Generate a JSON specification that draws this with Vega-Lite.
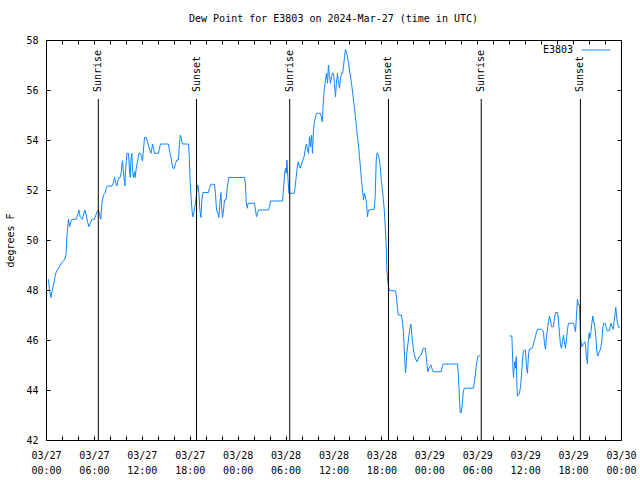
{
  "$schema": "https://vega.github.io/schema/vega-lite/v6.json",
  "width": 575,
  "height": 400,
  "autosize": "none",
  "padding": {"left": 46, "top": 40, "right": 19, "bottom": 40},
  "background": "white",
  "title": {"text": "Dew Point for E3803 on 2024-Mar-27 (time in UTC)", "font": "DejaVu Sans Mono", "fontSize": 10, "fontWeight": "normal", "color": "black", "offset": 11, "anchor": "middle"},
  "config": {
    "view": {"stroke": "black", "strokeWidth": 1},
    "axis": {"labelFont": "DejaVu Sans Mono", "labelFontSize": 10, "labelColor": "black", "tickColor": "black", "tickWidth": 1, "domain": false, "grid": false, "titleFont": "DejaVu Sans Mono", "titleFontSize": 10, "titleFontWeight": "normal", "titleColor": "black"}
  },
  "datasets": {
    "dew": [
      {"t":"2024-03-27T00:19:00Z","v":48.43,"s":1},{"t":"2024-03-27T00:26:00Z","v":48.0,"s":1},{"t":"2024-03-27T00:37:00Z","v":47.7,"s":1},{"t":"2024-03-27T00:44:00Z","v":47.93,"s":1},{"t":"2024-03-27T00:52:00Z","v":48.1,"s":1},{"t":"2024-03-27T01:02:00Z","v":48.33,"s":1},{"t":"2024-03-27T01:11:00Z","v":48.64,"s":1},{"t":"2024-03-27T01:22:00Z","v":48.77,"s":1},{"t":"2024-03-27T01:34:00Z","v":48.87,"s":1},{"t":"2024-03-27T01:47:00Z","v":49.0,"s":1},{"t":"2024-03-27T02:02:00Z","v":49.13,"s":1},{"t":"2024-03-27T02:19:00Z","v":49.2,"s":1},{"t":"2024-03-27T02:30:00Z","v":49.4,"s":1},{"t":"2024-03-27T02:34:00Z","v":49.84,"s":1},{"t":"2024-03-27T02:42:00Z","v":50.47,"s":1},{"t":"2024-03-27T02:49:00Z","v":50.83,"s":1},{"t":"2024-03-27T02:57:00Z","v":50.53,"s":1},{"t":"2024-03-27T03:07:00Z","v":50.73,"s":1},{"t":"2024-03-27T03:17:00Z","v":50.83,"s":1},{"t":"2024-03-27T03:47:00Z","v":50.83,"s":1},{"t":"2024-03-27T03:57:00Z","v":51.0,"s":1},{"t":"2024-03-27T04:07:00Z","v":51.2,"s":1},{"t":"2024-03-27T04:17:00Z","v":50.93,"s":1},{"t":"2024-03-27T04:32:00Z","v":50.83,"s":1},{"t":"2024-03-27T04:42:00Z","v":51.0,"s":1},{"t":"2024-03-27T04:52:00Z","v":51.2,"s":1},{"t":"2024-03-27T05:02:00Z","v":51.0,"s":1},{"t":"2024-03-27T05:12:00Z","v":50.73,"s":1},{"t":"2024-03-27T05:22:00Z","v":50.53,"s":1},{"t":"2024-03-27T05:32:00Z","v":50.67,"s":1},{"t":"2024-03-27T05:47:00Z","v":50.83,"s":1},{"t":"2024-03-27T06:04:00Z","v":50.83,"s":1},{"t":"2024-03-27T06:17:00Z","v":51.03,"s":1},{"t":"2024-03-27T06:27:00Z","v":51.17,"s":1},{"t":"2024-03-27T06:37:00Z","v":51.17,"s":1},{"t":"2024-03-27T06:45:00Z","v":50.93,"s":1},{"t":"2024-03-27T06:52:00Z","v":50.83,"s":1},{"t":"2024-03-27T06:57:00Z","v":51.31,"s":1},{"t":"2024-03-27T07:04:00Z","v":51.6,"s":1},{"t":"2024-03-27T07:12:00Z","v":51.8,"s":1},{"t":"2024-03-27T07:25:00Z","v":51.87,"s":1},{"t":"2024-03-27T07:32:00Z","v":52.07,"s":1},{"t":"2024-03-27T07:42:00Z","v":52.16,"s":1},{"t":"2024-03-27T08:15:00Z","v":52.16,"s":1},{"t":"2024-03-27T08:25:00Z","v":52.27,"s":1},{"t":"2024-03-27T08:35:00Z","v":52.5,"s":1},{"t":"2024-03-27T08:45:00Z","v":52.27,"s":1},{"t":"2024-03-27T08:53:00Z","v":52.16,"s":1},{"t":"2024-03-27T09:00:00Z","v":52.37,"s":1},{"t":"2024-03-27T09:08:00Z","v":52.5,"s":1},{"t":"2024-03-27T09:17:00Z","v":52.5,"s":1},{"t":"2024-03-27T09:25:00Z","v":52.7,"s":1},{"t":"2024-03-27T09:30:00Z","v":53.0,"s":1},{"t":"2024-03-27T09:35:00Z","v":53.17,"s":1},{"t":"2024-03-27T09:40:00Z","v":52.8,"s":1},{"t":"2024-03-27T09:47:00Z","v":52.47,"s":1},{"t":"2024-03-27T09:53:00Z","v":52.16,"s":1},{"t":"2024-03-27T09:57:00Z","v":52.73,"s":1},{"t":"2024-03-27T10:03:00Z","v":53.13,"s":1},{"t":"2024-03-27T10:08:00Z","v":53.47,"s":1},{"t":"2024-03-27T10:20:00Z","v":53.47,"s":1},{"t":"2024-03-27T10:27:00Z","v":52.8,"s":1},{"t":"2024-03-27T10:33:00Z","v":52.5,"s":1},{"t":"2024-03-27T10:38:00Z","v":53.2,"s":1},{"t":"2024-03-27T10:45:00Z","v":53.47,"s":1},{"t":"2024-03-27T10:50:00Z","v":52.8,"s":1},{"t":"2024-03-27T10:57:00Z","v":52.5,"s":1},{"t":"2024-03-27T11:05:00Z","v":52.73,"s":1},{"t":"2024-03-27T11:10:00Z","v":52.5,"s":1},{"t":"2024-03-27T11:18:00Z","v":52.87,"s":1},{"t":"2024-03-27T11:25:00Z","v":53.07,"s":1},{"t":"2024-03-27T11:33:00Z","v":53.3,"s":1},{"t":"2024-03-27T11:38:00Z","v":53.47,"s":1},{"t":"2024-03-27T11:50:00Z","v":53.47,"s":1},{"t":"2024-03-27T11:58:00Z","v":53.3,"s":1},{"t":"2024-03-27T12:05:00Z","v":53.17,"s":1},{"t":"2024-03-27T12:10:00Z","v":53.47,"s":1},{"t":"2024-03-27T12:16:00Z","v":53.84,"s":1},{"t":"2024-03-27T12:20:00Z","v":54.1,"s":1},{"t":"2024-03-27T12:33:00Z","v":54.1,"s":1},{"t":"2024-03-27T12:43:00Z","v":53.93,"s":1},{"t":"2024-03-27T12:53:00Z","v":53.73,"s":1},{"t":"2024-03-27T13:01:00Z","v":53.57,"s":1},{"t":"2024-03-27T13:08:00Z","v":53.47,"s":1},{"t":"2024-03-27T13:16:00Z","v":53.67,"s":1},{"t":"2024-03-27T13:20:00Z","v":53.84,"s":1},{"t":"2024-03-27T13:28:00Z","v":53.67,"s":1},{"t":"2024-03-27T13:35:00Z","v":53.47,"s":1},{"t":"2024-03-27T14:05:00Z","v":53.47,"s":1},{"t":"2024-03-27T14:13:00Z","v":53.67,"s":1},{"t":"2024-03-27T14:20:00Z","v":53.84,"s":1},{"t":"2024-03-27T15:20:00Z","v":53.84,"s":1},{"t":"2024-03-27T15:28:00Z","v":53.57,"s":1},{"t":"2024-03-27T15:38:00Z","v":53.33,"s":1},{"t":"2024-03-27T15:46:00Z","v":53.07,"s":1},{"t":"2024-03-27T15:53:00Z","v":52.87,"s":1},{"t":"2024-03-27T16:05:00Z","v":52.87,"s":1},{"t":"2024-03-27T16:13:00Z","v":53.07,"s":1},{"t":"2024-03-27T16:23:00Z","v":53.2,"s":1},{"t":"2024-03-27T16:35:00Z","v":53.2,"s":1},{"t":"2024-03-27T16:43:00Z","v":53.89,"s":1},{"t":"2024-03-27T16:50:00Z","v":54.2,"s":1},{"t":"2024-03-27T16:58:00Z","v":54.0,"s":1},{"t":"2024-03-27T17:05:00Z","v":53.84,"s":1},{"t":"2024-03-27T17:51:00Z","v":53.84,"s":1},{"t":"2024-03-27T17:56:00Z","v":53.33,"s":1},{"t":"2024-03-27T18:03:00Z","v":52.33,"s":1},{"t":"2024-03-27T18:11:00Z","v":51.63,"s":1},{"t":"2024-03-27T18:18:00Z","v":51.13,"s":1},{"t":"2024-03-27T18:24:00Z","v":50.93,"s":1},{"t":"2024-03-27T18:31:00Z","v":51.13,"s":1},{"t":"2024-03-27T18:39:00Z","v":51.36,"s":1},{"t":"2024-03-27T18:46:00Z","v":51.6,"s":1},{"t":"2024-03-27T18:54:00Z","v":52.0,"s":1},{"t":"2024-03-27T19:01:00Z","v":52.2,"s":1},{"t":"2024-03-27T19:09:00Z","v":51.87,"s":1},{"t":"2024-03-27T19:16:00Z","v":51.2,"s":1},{"t":"2024-03-27T19:24:00Z","v":50.9,"s":1},{"t":"2024-03-27T19:31:00Z","v":51.6,"s":1},{"t":"2024-03-27T19:39:00Z","v":51.9,"s":1},{"t":"2024-03-27T20:21:00Z","v":51.9,"s":1},{"t":"2024-03-27T20:28:00Z","v":52.07,"s":1},{"t":"2024-03-27T20:39:00Z","v":52.23,"s":1},{"t":"2024-03-27T21:06:00Z","v":52.23,"s":1},{"t":"2024-03-27T21:13:00Z","v":51.87,"s":1},{"t":"2024-03-27T21:21:00Z","v":51.2,"s":1},{"t":"2024-03-27T21:31:00Z","v":51.07,"s":1},{"t":"2024-03-27T21:39:00Z","v":50.9,"s":1},{"t":"2024-03-27T21:46:00Z","v":51.47,"s":1},{"t":"2024-03-27T21:54:00Z","v":51.9,"s":1},{"t":"2024-03-27T22:01:00Z","v":51.2,"s":1},{"t":"2024-03-27T22:06:00Z","v":50.9,"s":1},{"t":"2024-03-27T22:14:00Z","v":51.2,"s":1},{"t":"2024-03-27T22:21:00Z","v":51.6,"s":1},{"t":"2024-03-27T22:32:00Z","v":51.6,"s":1},{"t":"2024-03-27T22:39:00Z","v":51.93,"s":1},{"t":"2024-03-27T22:47:00Z","v":52.3,"s":1},{"t":"2024-03-27T22:54:00Z","v":52.5,"s":1},
      {"t":"2024-03-28T00:51:00Z","v":52.5,"s":1},{"t":"2024-03-28T00:59:00Z","v":52.2,"s":1},{"t":"2024-03-28T01:04:00Z","v":51.53,"s":1},{"t":"2024-03-28T01:12:00Z","v":51.27,"s":1},{"t":"2024-03-28T01:19:00Z","v":51.47,"s":1},{"t":"2024-03-28T02:06:00Z","v":51.47,"s":1},{"t":"2024-03-28T02:14:00Z","v":51.2,"s":1},{"t":"2024-03-28T02:21:00Z","v":50.93,"s":1},{"t":"2024-03-28T02:29:00Z","v":51.04,"s":1},{"t":"2024-03-28T02:36:00Z","v":51.2,"s":1},{"t":"2024-03-28T03:52:00Z","v":51.2,"s":1},{"t":"2024-03-28T03:59:00Z","v":51.33,"s":1},{"t":"2024-03-28T04:07:00Z","v":51.56,"s":1},{"t":"2024-03-28T05:37:00Z","v":51.56,"s":1},{"t":"2024-03-28T05:44:00Z","v":52.0,"s":1},{"t":"2024-03-28T05:52:00Z","v":52.6,"s":1},{"t":"2024-03-28T05:59:00Z","v":52.87,"s":1},{"t":"2024-03-28T06:05:00Z","v":52.67,"s":1},{"t":"2024-03-28T06:10:00Z","v":53.2,"s":1},{"t":"2024-03-28T06:17:00Z","v":52.53,"s":1},{"t":"2024-03-28T06:25:00Z","v":51.87,"s":1},{"t":"2024-03-28T07:05:00Z","v":51.87,"s":1},{"t":"2024-03-28T07:12:00Z","v":52.13,"s":1},{"t":"2024-03-28T07:20:00Z","v":52.53,"s":1},{"t":"2024-03-28T07:27:00Z","v":52.87,"s":1},{"t":"2024-03-28T07:35:00Z","v":53.13,"s":1},{"t":"2024-03-28T07:42:00Z","v":53.0,"s":1},{"t":"2024-03-28T07:50:00Z","v":52.87,"s":1},{"t":"2024-03-28T07:57:00Z","v":53.0,"s":1},{"t":"2024-03-28T08:05:00Z","v":53.13,"s":1},{"t":"2024-03-28T08:15:00Z","v":53.27,"s":1},{"t":"2024-03-28T08:22:00Z","v":53.4,"s":1},{"t":"2024-03-28T08:30:00Z","v":53.73,"s":1},{"t":"2024-03-28T08:37:00Z","v":53.84,"s":1},{"t":"2024-03-28T08:45:00Z","v":53.6,"s":1},{"t":"2024-03-28T08:52:00Z","v":53.47,"s":1},{"t":"2024-03-28T09:00:00Z","v":54.13,"s":1},{"t":"2024-03-28T09:07:00Z","v":53.73,"s":1},{"t":"2024-03-28T09:15:00Z","v":54.2,"s":1},{"t":"2024-03-28T09:22:00Z","v":53.47,"s":1},{"t":"2024-03-28T09:30:00Z","v":54.47,"s":1},{"t":"2024-03-28T09:37:00Z","v":54.73,"s":1},{"t":"2024-03-28T09:45:00Z","v":54.93,"s":1},{"t":"2024-03-28T09:52:00Z","v":55.07,"s":1},{"t":"2024-03-28T10:20:00Z","v":55.07,"s":1},{"t":"2024-03-28T10:28:00Z","v":54.93,"s":1},{"t":"2024-03-28T10:35:00Z","v":54.73,"s":1},{"t":"2024-03-28T10:40:00Z","v":55.13,"s":1},{"t":"2024-03-28T10:45:00Z","v":55.67,"s":1},{"t":"2024-03-28T10:52:00Z","v":56.07,"s":1},{"t":"2024-03-28T11:00:00Z","v":56.4,"s":1},{"t":"2024-03-28T11:07:00Z","v":56.67,"s":1},{"t":"2024-03-28T11:15:00Z","v":56.27,"s":1},{"t":"2024-03-28T11:22:00Z","v":57.0,"s":1},{"t":"2024-03-28T11:30:00Z","v":56.53,"s":1},{"t":"2024-03-28T11:37:00Z","v":56.27,"s":1},{"t":"2024-03-28T11:45:00Z","v":56.53,"s":1},{"t":"2024-03-28T11:52:00Z","v":56.67,"s":1},{"t":"2024-03-28T12:00:00Z","v":56.67,"s":1},{"t":"2024-03-28T12:07:00Z","v":56.27,"s":1},{"t":"2024-03-28T12:15:00Z","v":55.73,"s":1},{"t":"2024-03-28T12:22:00Z","v":56.27,"s":1},{"t":"2024-03-28T12:30:00Z","v":56.67,"s":1},{"t":"2024-03-28T12:38:00Z","v":56.27,"s":1},{"t":"2024-03-28T12:45:00Z","v":56.07,"s":1},{"t":"2024-03-28T12:53:00Z","v":56.47,"s":1},{"t":"2024-03-28T13:00:00Z","v":56.67,"s":1},{"t":"2024-03-28T13:08:00Z","v":56.67,"s":1},{"t":"2024-03-28T13:15:00Z","v":56.93,"s":1},{"t":"2024-03-28T13:23:00Z","v":57.33,"s":1},{"t":"2024-03-28T13:30:00Z","v":57.63,"s":1},{"t":"2024-03-28T13:38:00Z","v":57.47,"s":1},{"t":"2024-03-28T13:45:00Z","v":57.33,"s":1},{"t":"2024-03-28T13:53:00Z","v":57.07,"s":1},{"t":"2024-03-28T14:00:00Z","v":56.8,"s":1},{"t":"2024-03-28T14:08:00Z","v":56.53,"s":1},{"t":"2024-03-28T14:15:00Z","v":56.27,"s":1},{"t":"2024-03-28T14:23:00Z","v":55.93,"s":1},{"t":"2024-03-28T14:30:00Z","v":55.6,"s":1},{"t":"2024-03-28T14:38:00Z","v":55.27,"s":1},{"t":"2024-03-28T14:45:00Z","v":54.93,"s":1},{"t":"2024-03-28T14:53:00Z","v":54.47,"s":1},{"t":"2024-03-28T15:00:00Z","v":54.13,"s":1},{"t":"2024-03-28T15:08:00Z","v":53.8,"s":1},{"t":"2024-03-28T15:15:00Z","v":53.33,"s":1},{"t":"2024-03-28T15:23:00Z","v":52.87,"s":1},{"t":"2024-03-28T15:30:00Z","v":52.4,"s":1},{"t":"2024-03-28T15:38:00Z","v":52.0,"s":1},{"t":"2024-03-28T15:45:00Z","v":51.6,"s":1},{"t":"2024-03-28T15:53:00Z","v":51.87,"s":1},{"t":"2024-03-28T16:00:00Z","v":51.73,"s":1},{"t":"2024-03-28T16:08:00Z","v":51.47,"s":1},{"t":"2024-03-28T16:15:00Z","v":50.93,"s":1},{"t":"2024-03-28T16:23:00Z","v":51.2,"s":1},{"t":"2024-03-28T17:06:00Z","v":51.23,"s":1},{"t":"2024-03-28T17:13:00Z","v":51.73,"s":1},{"t":"2024-03-28T17:21:00Z","v":53.2,"s":1},{"t":"2024-03-28T17:28:00Z","v":53.49,"s":1},{"t":"2024-03-28T17:36:00Z","v":53.4,"s":1},{"t":"2024-03-28T17:43:00Z","v":53.27,"s":1},{"t":"2024-03-28T17:51:00Z","v":52.93,"s":1},{"t":"2024-03-28T17:58:00Z","v":52.47,"s":1},{"t":"2024-03-28T18:06:00Z","v":52.07,"s":1},{"t":"2024-03-28T18:13:00Z","v":51.73,"s":1},{"t":"2024-03-28T18:21:00Z","v":51.23,"s":1},{"t":"2024-03-28T18:28:00Z","v":50.6,"s":1},{"t":"2024-03-28T18:36:00Z","v":49.76,"s":1},{"t":"2024-03-28T18:41:00Z","v":48.8,"s":1},{"t":"2024-03-28T18:49:00Z","v":48.27,"s":1},{"t":"2024-03-28T18:56:00Z","v":48.07,"s":1},{"t":"2024-03-28T19:04:00Z","v":47.97,"s":1},{"t":"2024-03-28T19:46:00Z","v":47.97,"s":1},{"t":"2024-03-28T19:53:00Z","v":47.73,"s":1},{"t":"2024-03-28T20:01:00Z","v":47.23,"s":1},{"t":"2024-03-28T20:06:00Z","v":47.0,"s":1},{"t":"2024-03-28T20:31:00Z","v":47.0,"s":1},{"t":"2024-03-28T20:38:00Z","v":46.73,"s":1},{"t":"2024-03-28T20:46:00Z","v":46.27,"s":1},{"t":"2024-03-28T20:51:00Z","v":45.67,"s":1},{"t":"2024-03-28T20:56:00Z","v":45.09,"s":1},{"t":"2024-03-28T21:01:00Z","v":44.69,"s":1},{"t":"2024-03-28T21:06:00Z","v":45.0,"s":1},{"t":"2024-03-28T21:11:00Z","v":45.47,"s":1},{"t":"2024-03-28T21:19:00Z","v":45.84,"s":1},{"t":"2024-03-28T21:26:00Z","v":46.16,"s":1},{"t":"2024-03-28T21:34:00Z","v":46.47,"s":1},{"t":"2024-03-28T21:41:00Z","v":46.64,"s":1},{"t":"2024-03-28T21:46:00Z","v":46.4,"s":1},{"t":"2024-03-28T21:53:00Z","v":45.93,"s":1},{"t":"2024-03-28T22:01:00Z","v":45.6,"s":1},{"t":"2024-03-28T22:08:00Z","v":45.4,"s":1},{"t":"2024-03-28T22:19:00Z","v":45.23,"s":1},{"t":"2024-03-28T22:27:00Z","v":45.13,"s":1},{"t":"2024-03-28T22:34:00Z","v":45.2,"s":1},{"t":"2024-03-28T22:42:00Z","v":45.33,"s":1},{"t":"2024-03-28T22:51:00Z","v":45.36,"s":1},{"t":"2024-03-28T22:59:00Z","v":45.4,"s":1},{"t":"2024-03-28T23:06:00Z","v":45.53,"s":1},{"t":"2024-03-28T23:14:00Z","v":45.67,"s":1},{"t":"2024-03-28T23:29:00Z","v":45.67,"s":1},{"t":"2024-03-28T23:36:00Z","v":45.4,"s":1},{"t":"2024-03-28T23:42:00Z","v":45.04,"s":1},{"t":"2024-03-28T23:49:00Z","v":44.73,"s":1},{"t":"2024-03-28T23:57:00Z","v":44.87,"s":1},
      {"t":"2024-03-29T00:04:00Z","v":44.93,"s":1},{"t":"2024-03-29T00:12:00Z","v":45.0,"s":1},{"t":"2024-03-29T00:19:00Z","v":44.87,"s":1},{"t":"2024-03-29T00:29:00Z","v":44.73,"s":1},{"t":"2024-03-29T01:29:00Z","v":44.73,"s":1},{"t":"2024-03-29T01:37:00Z","v":44.93,"s":1},{"t":"2024-03-29T01:44:00Z","v":45.04,"s":1},{"t":"2024-03-29T03:32:00Z","v":45.04,"s":1},{"t":"2024-03-29T03:39:00Z","v":44.53,"s":1},{"t":"2024-03-29T03:47:00Z","v":43.6,"s":1},{"t":"2024-03-29T03:52:00Z","v":43.09,"s":1},{"t":"2024-03-29T03:59:00Z","v":43.09,"s":1},{"t":"2024-03-29T04:07:00Z","v":43.4,"s":1},{"t":"2024-03-29T04:14:00Z","v":43.87,"s":1},{"t":"2024-03-29T04:22:00Z","v":44.07,"s":1},{"t":"2024-03-29T05:30:00Z","v":44.07,"s":1},{"t":"2024-03-29T05:37:00Z","v":44.24,"s":1},{"t":"2024-03-29T05:45:00Z","v":44.6,"s":1},{"t":"2024-03-29T05:52:00Z","v":44.93,"s":1},{"t":"2024-03-29T06:00:00Z","v":45.23,"s":1},{"t":"2024-03-29T06:07:00Z","v":45.36,"s":1},{"t":"2024-03-29T06:20:00Z","v":45.36,"s":1},
      {"t":"2024-03-29T10:02:00Z","v":46.16,"s":2},{"t":"2024-03-29T10:20:00Z","v":46.16,"s":2},{"t":"2024-03-29T10:23:00Z","v":45.73,"s":2},{"t":"2024-03-29T10:28:00Z","v":44.93,"s":2},{"t":"2024-03-29T10:32:00Z","v":44.5,"s":2},{"t":"2024-03-29T10:38:00Z","v":44.93,"s":2},{"t":"2024-03-29T10:43:00Z","v":45.13,"s":2},{"t":"2024-03-29T10:47:00Z","v":44.87,"s":2},{"t":"2024-03-29T10:53:00Z","v":45.33,"s":2},{"t":"2024-03-29T10:58:00Z","v":44.16,"s":2},{"t":"2024-03-29T11:02:00Z","v":43.76,"s":2},{"t":"2024-03-29T11:10:00Z","v":43.8,"s":2},{"t":"2024-03-29T11:17:00Z","v":43.87,"s":2},{"t":"2024-03-29T11:25:00Z","v":44.13,"s":2},{"t":"2024-03-29T11:32:00Z","v":44.56,"s":2},{"t":"2024-03-29T11:40:00Z","v":45.2,"s":2},{"t":"2024-03-29T11:47:00Z","v":45.57,"s":2},{"t":"2024-03-29T11:55:00Z","v":45.6,"s":2},{"t":"2024-03-29T12:02:00Z","v":45.6,"s":2},{"t":"2024-03-29T12:10:00Z","v":44.93,"s":2},{"t":"2024-03-29T12:17:00Z","v":44.67,"s":2},{"t":"2024-03-29T12:25:00Z","v":45.4,"s":2},{"t":"2024-03-29T12:32:00Z","v":45.64,"s":2},{"t":"2024-03-29T12:48:00Z","v":45.64,"s":2},{"t":"2024-03-29T12:55:00Z","v":45.73,"s":2},{"t":"2024-03-29T13:03:00Z","v":45.84,"s":2},{"t":"2024-03-29T13:10:00Z","v":46.0,"s":2},{"t":"2024-03-29T13:18:00Z","v":46.16,"s":2},{"t":"2024-03-29T13:25:00Z","v":46.33,"s":2},{"t":"2024-03-29T13:33:00Z","v":46.43,"s":2},{"t":"2024-03-29T14:03:00Z","v":46.43,"s":2},{"t":"2024-03-29T14:10:00Z","v":46.4,"s":2},{"t":"2024-03-29T14:18:00Z","v":46.27,"s":2},{"t":"2024-03-29T14:25:00Z","v":45.87,"s":2},{"t":"2024-03-29T14:33:00Z","v":45.63,"s":2},{"t":"2024-03-29T14:40:00Z","v":46.13,"s":2},{"t":"2024-03-29T14:48:00Z","v":46.43,"s":2},{"t":"2024-03-29T14:55:00Z","v":46.73,"s":2},{"t":"2024-03-29T15:03:00Z","v":46.96,"s":2},{"t":"2024-03-29T15:10:00Z","v":46.8,"s":2},{"t":"2024-03-29T15:18:00Z","v":46.53,"s":2},{"t":"2024-03-29T15:33:00Z","v":46.53,"s":2},{"t":"2024-03-29T15:40:00Z","v":46.87,"s":2},{"t":"2024-03-29T15:48:00Z","v":47.1,"s":2},{"t":"2024-03-29T16:03:00Z","v":47.1,"s":2},{"t":"2024-03-29T16:10:00Z","v":46.8,"s":2},{"t":"2024-03-29T16:18:00Z","v":46.27,"s":2},{"t":"2024-03-29T16:25:00Z","v":45.8,"s":2},{"t":"2024-03-29T16:33:00Z","v":45.67,"s":2},{"t":"2024-03-29T16:40:00Z","v":45.93,"s":2},{"t":"2024-03-29T16:48:00Z","v":46.2,"s":2},{"t":"2024-03-29T16:55:00Z","v":45.93,"s":2},{"t":"2024-03-29T17:03:00Z","v":45.67,"s":2},{"t":"2024-03-29T17:10:00Z","v":46.0,"s":2},{"t":"2024-03-29T17:18:00Z","v":46.43,"s":2},{"t":"2024-03-29T17:25:00Z","v":46.67,"s":2},{"t":"2024-03-29T18:03:00Z","v":46.67,"s":2},{"t":"2024-03-29T18:10:00Z","v":46.53,"s":2},{"t":"2024-03-29T18:18:00Z","v":46.33,"s":2},{"t":"2024-03-29T18:25:00Z","v":46.93,"s":2},{"t":"2024-03-29T18:33:00Z","v":47.63,"s":2},{"t":"2024-03-29T18:40:00Z","v":47.4,"s":2},{"t":"2024-03-29T18:48:00Z","v":47.4,"s":2},{"t":"2024-03-29T18:53:00Z","v":46.67,"s":2},{"t":"2024-03-29T18:58:00Z","v":46.0,"s":2},{"t":"2024-03-29T19:06:00Z","v":45.73,"s":2},{"t":"2024-03-29T19:13:00Z","v":45.8,"s":2},{"t":"2024-03-29T19:21:00Z","v":45.87,"s":2},{"t":"2024-03-29T19:28:00Z","v":45.93,"s":2},{"t":"2024-03-29T19:33:00Z","v":45.8,"s":2},{"t":"2024-03-29T19:40:00Z","v":45.33,"s":2},{"t":"2024-03-29T19:48:00Z","v":45.04,"s":2},{"t":"2024-03-29T19:53:00Z","v":45.87,"s":2},{"t":"2024-03-29T20:01:00Z","v":46.29,"s":2},{"t":"2024-03-29T20:06:00Z","v":46.07,"s":2},{"t":"2024-03-29T20:13:00Z","v":46.27,"s":2},{"t":"2024-03-29T20:21:00Z","v":46.67,"s":2},{"t":"2024-03-29T20:28:00Z","v":46.96,"s":2},{"t":"2024-03-29T20:36:00Z","v":46.73,"s":2},{"t":"2024-03-29T20:43:00Z","v":46.53,"s":2},{"t":"2024-03-29T20:51:00Z","v":46.13,"s":2},{"t":"2024-03-29T20:58:00Z","v":45.6,"s":2},{"t":"2024-03-29T21:06:00Z","v":45.36,"s":2},{"t":"2024-03-29T21:13:00Z","v":45.47,"s":2},{"t":"2024-03-29T21:21:00Z","v":45.57,"s":2},{"t":"2024-03-29T21:28:00Z","v":45.67,"s":2},{"t":"2024-03-29T21:36:00Z","v":46.0,"s":2},{"t":"2024-03-29T21:44:00Z","v":46.53,"s":2},{"t":"2024-03-29T21:51:00Z","v":46.67,"s":2},{"t":"2024-03-29T22:01:00Z","v":46.67,"s":2},{"t":"2024-03-29T22:08:00Z","v":46.53,"s":2},{"t":"2024-03-29T22:16:00Z","v":46.37,"s":2},{"t":"2024-03-29T22:31:00Z","v":46.37,"s":2},{"t":"2024-03-29T22:38:00Z","v":46.53,"s":2},{"t":"2024-03-29T22:46:00Z","v":46.67,"s":2},{"t":"2024-03-29T22:53:00Z","v":46.53,"s":2},{"t":"2024-03-29T23:01:00Z","v":46.43,"s":2},{"t":"2024-03-29T23:08:00Z","v":46.73,"s":2},{"t":"2024-03-29T23:16:00Z","v":47.07,"s":2},{"t":"2024-03-29T23:21:00Z","v":47.31,"s":2},{"t":"2024-03-29T23:26:00Z","v":47.0,"s":2},{"t":"2024-03-29T23:33:00Z","v":46.69,"s":2},{"t":"2024-03-29T23:41:00Z","v":46.51,"s":2},{"t":"2024-03-29T23:53:00Z","v":46.51,"s":2}
    ],
    "sun": [
      {"t":"2024-03-27T06:33:00Z","e":"Sunrise"},
      {"t":"2024-03-27T18:51:00Z","e":"Sunset"},
      {"t":"2024-03-28T06:31:00Z","e":"Sunrise"},
      {"t":"2024-03-28T18:53:00Z","e":"Sunset"},
      {"t":"2024-03-29T06:30:00Z","e":"Sunrise"},
      {"t":"2024-03-29T18:55:00Z","e":"Sunset"}
    ]
  },
  "layer": [
    {
      "data": {"name": "dew"},
      "mark": {"type": "line", "strokeWidth": 1, "interpolate": "linear"},
      "encoding": {
        "x": {"field": "t", "type": "temporal",
          "scale": {"type": "utc", "nice": false, "domain": [1711497600000, 1711756800000]},
          "axis": {"orient": "bottom", "title": null,
            "values": [1711497600000, 1711504800000, 1711512000000, 1711519200000, 1711526400000, 1711533600000, 1711540800000, 1711548000000, 1711555200000, 1711562400000, 1711569600000, 1711576800000, 1711584000000, 1711591200000, 1711598400000, 1711605600000, 1711612800000, 1711620000000, 1711627200000, 1711634400000, 1711641600000, 1711648800000, 1711656000000, 1711663200000, 1711670400000, 1711677600000, 1711684800000, 1711692000000, 1711699200000, 1711706400000, 1711713600000, 1711720800000, 1711728000000, 1711735200000, 1711742400000, 1711749600000, 1711756800000],
            "tickSize": -4, "labelPadding": 14, "labelFlush": false, "labelOverlap": false, "labelBound": false, "labelLineHeight": 15, "labelAlign": "center",
            "labelExpr": "utchours(datum.value) % 6 == 0 ? [utcFormat(datum.value, '%m/%d'), utcFormat(datum.value, '%H:%M')] : ''"}},
        "y": {"field": "v", "type": "quantitative",
          "scale": {"domain": [42, 58], "nice": false, "zero": false},
          "axis": {"orient": "left", "title": "degrees F", "values": [42, 44, 46, 48, 50, 52, 54, 56, 58], "tickSize": -4, "labelPadding": 12, "labelFlush": false, "titlePadding": 10}},
        "color": {"datum": "E3803", "scale": {"range": ["#1185ff"]},
          "legend": {"title": null, "orient": "none", "legendX": 535, "legendY": -5, "padding": 0, "symbolType": "stroke", "symbolSize": 841, "symbolStrokeWidth": 1, "labelAlign": "right", "labelOffset": -38, "labelFont": "DejaVu Sans Mono", "labelFontSize": 10, "labelColor": "black"}},
        "detail": {"field": "s"}
      }
    },
    {
      "data": {"name": "sun"},
      "mark": {"type": "rule", "color": "black", "strokeWidth": 1},
      "encoding": {
        "x": {"field": "t", "type": "temporal",
          "axis": {"orient": "top", "title": null, "labels": false,
            "values": [1711497600000, 1711504800000, 1711512000000, 1711519200000, 1711526400000, 1711533600000, 1711540800000, 1711548000000, 1711555200000, 1711562400000, 1711569600000, 1711576800000, 1711584000000, 1711591200000, 1711598400000, 1711605600000, 1711612800000, 1711620000000, 1711627200000, 1711634400000, 1711641600000, 1711648800000, 1711656000000, 1711663200000, 1711670400000, 1711677600000, 1711684800000, 1711692000000, 1711699200000, 1711706400000, 1711713600000, 1711720800000, 1711728000000, 1711735200000, 1711742400000, 1711749600000, 1711756800000],
            "tickSize": -4}},
        "y": {"datum": 42, "type": "quantitative",
          "axis": {"orient": "right", "title": null, "labels": false, "values": [42, 44, 46, 48, 50, 52, 54, 56, 58], "tickSize": -4}},
        "y2": {"datum": 55.64}
      }
    },
    {
      "data": {"name": "sun"},
      "mark": {"type": "text", "angle": 270, "align": "left", "baseline": "middle", "font": "DejaVu Sans Mono", "fontSize": 10, "color": "black"},
      "encoding": {
        "x": {"field": "t", "type": "temporal", "axis": null},
        "y": {"datum": 55.92, "type": "quantitative", "axis": null},
        "text": {"field": "e"}
      }
    }
  ],
  "resolve": {"axis": {"x": "independent", "y": "independent"}}
}
